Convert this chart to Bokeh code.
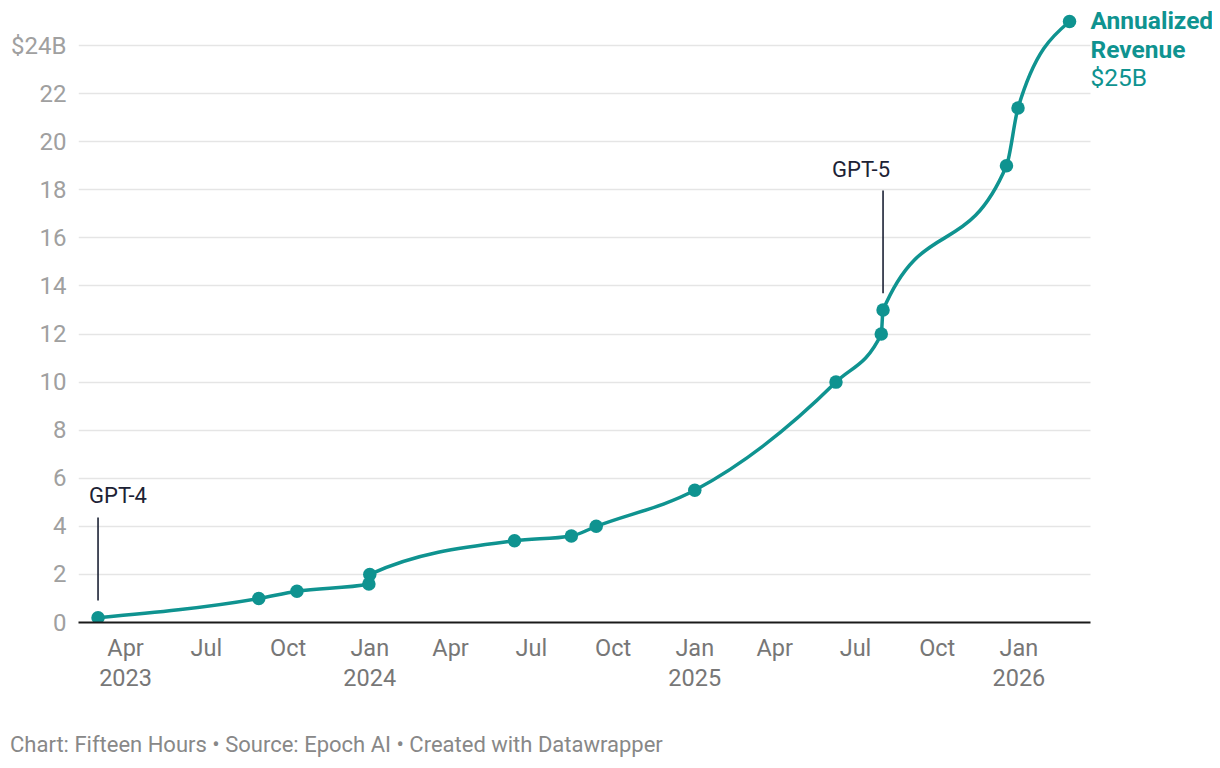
import numpy as np
from bokeh.plotting import figure
from bokeh.layouts import column
from bokeh.models import FixedTicker, Label, ColumnDataSource, Range1d, Div
from bokeh.embed import file_html
from bokeh.resources import INLINE

# ---- data ----
dates = ["2023-03-01", "2023-08-29", "2023-10-11", "2023-12-31", "2024-01-01",
         "2024-06-12", "2024-08-15", "2024-09-12", "2025-01-01", "2025-06-09",
         "2025-07-30", "2025-08-01", "2025-12-18", "2025-12-31", "2026-02-27"]
revenue = [0.2, 1.0, 1.3, 1.6, 2.0, 3.4, 3.6, 4.0, 5.5, 10.0, 12.0, 13.0, 19.0, 21.4, 25.0]

tick_dates = ["2023-04-01", "2023-07-01", "2023-10-01", "2024-01-01", "2024-04-01",
              "2024-07-01", "2024-10-01", "2025-01-01", "2025-04-01", "2025-07-01",
              "2025-10-01", "2026-01-01"]
tick_labels = ["Apr\n2023", "Jul", "Oct", "Jan\n2024", "Apr", "Jul", "Oct",
               "Jan\n2025", "Apr", "Jul", "Oct", "Jan\n2026"]
y_ticks = [0, 2, 4, 6, 8, 10, 12, 14, 16, 18, 20, 22, 24]
y_labels = ["0", "2", "4", "6", "8", "10", "12", "14", "16", "18", "20", "22", "$24B"]

ann_text = ["GPT-4", "GPT-5"]
ann_date = ["2023-03-01", "2025-08-01"]
ann_line_lo = [0.92, 13.7]
ann_line_hi = [4.37, 17.97]
ann_text_y = [5.30, 18.86]

end_title = ["Annualized", "Revenue"]
end_value = "$25B"
footer = "Chart: Fifteen Hours \u2022 Source: Epoch AI \u2022 Created with Datawrapper"

X_START, X_GRID_END, X_END = "2023-02-07", "2026-03-23", "2026-08-07"

TEAL = "#0f9390"
NAVY = "#1c2235"
FONT = "Roboto"


def ms(d):
    return float(np.datetime64(d, "ms").astype("int64"))


x = np.array([ms(d) for d in dates])
y = np.array(revenue, dtype=float)

# d3 curveMonotoneX tangents -> cubic bezier segments
h = np.diff(x)
s = np.diff(y) / h
n = len(x)
t = np.zeros(n)
for i in range(1, n - 1):
    h0, h1 = h[i - 1], h[i]
    s0, s1 = s[i - 1], s[i]
    pp = (s0 * h1 + s1 * h0) / (h0 + h1)
    t[i] = (np.sign(s0) + np.sign(s1)) * min(abs(s0), abs(s1), 0.5 * abs(pp))
t[0] = (3 * s[0] - t[1]) / 2
t[-1] = (3 * s[-1] - t[-2]) / 2
dx = h / 3
bez = ColumnDataSource(dict(
    x0=x[:-1], y0=y[:-1], x1=x[1:], y1=y[1:],
    cx0=x[:-1] + dx, cy0=y[:-1] + dx * t[:-1],
    cx1=x[1:] - dx, cy1=y[1:] - dx * t[1:],
))

p = figure(width=1212, height=702, output_backend="svg", toolbar_location=None,
           x_axis_type="datetime",
           x_range=Range1d(ms(X_START), ms(X_END)),
           y_range=Range1d(0, 25.5),
           min_border_left=78, min_border_right=0, min_border_top=9,
           min_border_bottom=80)
p.outline_line_color = None
p.background_fill_color = "white"
p.border_fill_color = "white"

p.xgrid.visible = False
p.ygrid.grid_line_color = "#e5e5e5"
p.ygrid.grid_line_width = 1.6
grid_ok = True
try:
    p.ygrid.cross_bounds = (ms(X_START), ms(X_GRID_END))
except Exception:
    grid_ok = False
if not grid_ok:
    p.ygrid.visible = False
    p.segment(x0=[ms(X_START)] * len(y_ticks), x1=[ms(X_GRID_END)] * len(y_ticks),
              y0=y_ticks, y1=y_ticks, line_color="#e5e5e5", line_width=1.6)

p.yaxis.ticker = FixedTicker(ticks=y_ticks)
p.yaxis.major_label_overrides = {v: l for v, l in zip(y_ticks, y_labels)}
p.yaxis.axis_line_color = None
p.yaxis.major_tick_line_color = None
p.yaxis.minor_tick_line_color = None
p.yaxis.major_label_text_color = "#a0a0a0"
p.yaxis.major_label_text_font = FONT
p.yaxis.major_label_text_font_size = "24px"
p.yaxis.major_label_standoff = 6

tick_ms = [ms(d) for d in tick_dates]
p.xaxis.ticker = FixedTicker(ticks=tick_ms)
p.xaxis.major_label_overrides = {v: l for v, l in zip(tick_ms, tick_labels)}
p.xaxis.bounds = (ms(X_START), ms(X_GRID_END))
p.xaxis.axis_line_color = "#1a1a1a"
p.xaxis.axis_line_width = 2.2
p.xaxis.major_tick_line_color = None
p.xaxis.minor_tick_line_color = None
p.xaxis.major_label_text_color = "#777777"
p.xaxis.major_label_text_font = FONT
p.xaxis.major_label_text_font_size = "23.5px"
p.xaxis.major_label_text_line_height = 1.1
p.xaxis.major_label_standoff = 5

# annotation lines
ann_x = [ms(d) for d in ann_date]
p.segment(x0=ann_x, y0=ann_line_lo, x1=ann_x, y1=ann_line_hi,
          line_color=NAVY, line_width=1.6)

p.bezier(x0="x0", y0="y0", x1="x1", y1="y1", cx0="cx0", cy0="cy0",
         cx1="cx1", cy1="cy1", source=bez, line_color=TEAL, line_width=3.5,
         line_cap="round")
p.scatter(x, y, size=13.5, fill_color=TEAL, line_color=None)

# annotation texts
p.add_layout(Label(x=ann_x[0], y=ann_text_y[0], x_offset=-9, text=ann_text[0],
                   text_align="left", text_baseline="middle", text_font=FONT,
                   text_font_size="22px", text_color=NAVY))
p.add_layout(Label(x=ann_x[1], y=ann_text_y[1], x_offset=7, text=ann_text[1],
                   text_align="right", text_baseline="middle", text_font=FONT,
                   text_font_size="22px", text_color=NAVY))

# end label
line_gap = 28.5 / 24.04
for k, txt in enumerate(end_title):
    p.add_layout(Label(x=x[-1], y=y[-1] + 0.04 - k * line_gap, x_offset=21, text=txt,
                       text_align="left", text_baseline="middle", text_font=FONT,
                       text_font_size="24.5px", text_font_style="bold",
                       text_color=TEAL))
p.add_layout(Label(x=x[-1], y=y[-1] + 0.04 - 2 * line_gap, x_offset=21, text=end_value,
                   text_align="left", text_baseline="middle", text_font=FONT,
                   text_font_size="24.5px", text_color=TEAL))

# footer
foot = Div(text=footer, width=1000, margin=(31, 0, 0, 10),
           styles={"font-family": FONT, "font-size": "22px", "color": "#888888",
                   "line-height": "24px", "white-space": "nowrap"})

layout = column(p, foot, spacing=0)
open("out.html", "w").write(file_html(layout, INLINE))
